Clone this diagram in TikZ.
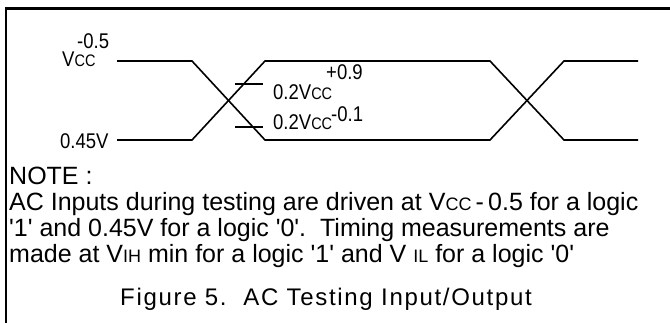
\documentclass[tikz,border=0pt]{standalone}
\usepackage{graphicx}
\usepackage{fontspec}
\setmainfont{Liberation Sans}[Ligatures=TeXOff]
\newfontfamily\capfont{Liberation Sans}[LetterSpace=7,Ligatures=TeXOff]
% smaller capitals used for subscripts such as CC, IH, IL
\newcommand\lowcap[2]{{\fontsize{#1}{#1}\selectfont #2}}
% level labels are set slightly taller than their natural shape
\newcommand\tall[1]{\scalebox{1}[1.15]{#1}}
\begin{document}
\begin{tikzpicture}[x=1pt,y=-1pt,
  wave/.style={line width=1.6pt},
  frameline/.style={line width=2.4pt},
  tick/.style={line width=1.6pt},
  lbl/.style={font=\fontsize{18.5}{18.5}\selectfont, inner sep=0pt, anchor=base west},
  txt/.style={font=\fontsize{25}{25}\selectfont, inner sep=0pt, anchor=base west},
  caption/.style={font=\capfont\fontsize{24}{24}\selectfont, inner sep=0pt, anchor=base}]
\useasboundingbox (0,0) rectangle (670,323);

% open frame: top edge and left edge
\draw[frameline] (6,323) -- (6,8.5) -- (670,8.5);

% waveform corner points
\coordinate (h0) at (117,61);
\coordinate (h1) at (192,61);
\coordinate (l0) at (117,140);
\coordinate (l1) at (192,140);
\coordinate (h2) at (265,61);
\coordinate (l2) at (265,140);
\coordinate (h3) at (490,61);
\coordinate (l3) at (490,140);
\coordinate (h4) at (564,61);
\coordinate (l4) at (564,140);
\coordinate (h5) at (638,61);
\coordinate (l5) at (638,140);

\draw[wave] (h0) -- (h1) -- (l2) -- (l3) -- (h4) -- (h5);
\draw[wave] (l0) -- (l1) -- (h2) -- (h3) -- (l4) -- (l5);

% measurement ticks
\coordinate (t1a) at (235,84);
\coordinate (t1b) at (263,84);
\coordinate (t2a) at (235,127);
\coordinate (t2b) at (263,127);
\draw[tick] (t1a) -- (t1b);
\draw[tick] (t2a) -- (t2b);

% level labels
\node[lbl] (vcc) at (62,67) {\tall{V\lowcap{14.5}{CC}}};
\node[lbl] (vccoff) at (77,49) {\tall{-0.5}};
\node[lbl] (vlow) at (60,149) {\tall{0.45V}};
\node[lbl] (vih) at (273,100) {\tall{0.2V\lowcap{14.5}{CC}}};
\node[lbl] (vihoff) at (326,80) {\tall{+0.9}};
\node[lbl] (vil) at (273,130) {\tall{0.2V\lowcap{14.5}{CC}}};
\node[lbl] (viloff) at (331,122) {\tall{-0.1}};

% note text
\node[txt] (note) at (9,185) {NOTE :};
\node[txt] (line1) at (9,211) {AC Inputs during testing are driven at V\lowcap{18}{CC}\,-\,0.5 for a logic};
\node[txt] (line2) at (9,237) {'1' and 0.45V for a logic '0'.\ \ Timing measurements are};
\node[txt] (line3) at (9,263) {made at V\lowcap{18}{IH} min for a logic '1' and V \lowcap{18}{IL} for a logic '0'};

\node[caption] (cap) at (326,306) {Figure 5.\ \ AC Testing Input/Output};
\end{tikzpicture}
\end{document}
